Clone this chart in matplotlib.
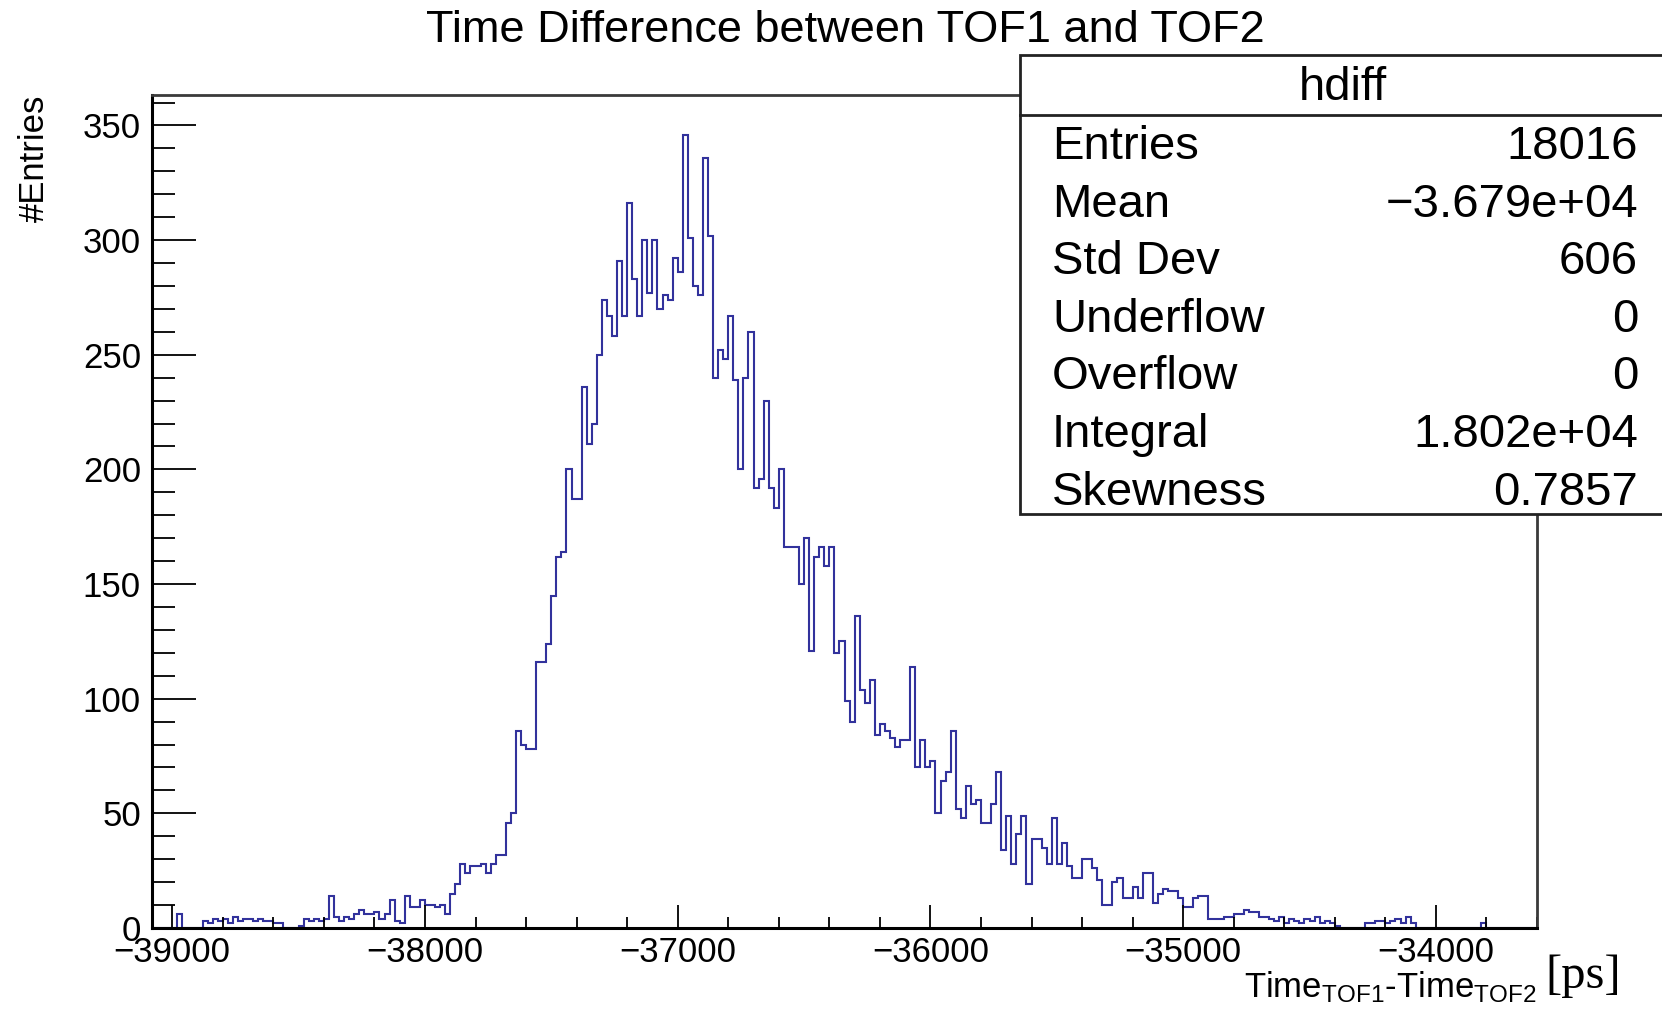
import numpy as np
import matplotlib.pyplot as plt
from matplotlib.patches import Rectangle
from matplotlib.ticker import MultipleLocator, FuncFormatter

plt.rcParams["font.family"] = ["Liberation Sans", "DejaVu Sans"]
plt.rcParams["mathtext.fontset"] = "custom"
plt.rcParams["mathtext.rm"] = "Liberation Sans"
plt.rcParams["mathtext.it"] = "Liberation Sans:italic"

# hdiff: TOF1 - TOF2 time difference, 20 ps bins
x_min, x_max, bin_width = -39080, -33600, 20
counts = [
    0, 0, 0, 0, 0, 6, 0, 0, 0, 0,
    3, 2, 4, 3, 4, 2, 5, 3, 4, 4,
    3, 4, 3, 3, 2, 2, 0, 0, 0, 1,
    4, 3, 4, 3, 4, 14, 5, 3, 5, 4,
    6, 8, 6, 6, 7, 4, 6, 12, 3, 2,
    14, 9, 9, 12, 10, 10, 9, 10, 6, 15,
    19, 28, 24, 27, 27, 28, 24, 28, 32, 32,
    46, 50, 86, 80, 78, 78, 116, 116, 124, 145,
    162, 164, 200, 187, 187, 236, 211, 220, 250, 274,
    267, 258, 291, 267, 316, 283, 267, 300, 277, 300,
    270, 276, 274, 292, 286, 346, 301, 280, 276, 336,
    302, 240, 252, 248, 267, 239, 200, 240, 260, 192,
    196, 230, 192, 183, 200, 166, 166, 166, 150, 170,
    121, 162, 166, 158, 166, 120, 125, 99, 90, 136,
    104, 98, 108, 84, 89, 86, 83, 79, 82, 82,
    114, 70, 82, 70, 73, 50, 64, 68, 86, 52,
    48, 62, 54, 56, 46, 46, 54, 68, 34, 49,
    28, 41, 49, 19, 39, 39, 35, 28, 48, 28,
    37, 27, 22, 22, 30, 30, 26, 21, 10, 10,
    20, 22, 13, 13, 18, 13, 24, 24, 11, 15,
    17, 16, 16, 13, 9, 9, 13, 14, 14, 4,
    4, 4, 5, 5, 6, 6, 8, 7, 7, 5,
    5, 4, 3, 5, 2, 4, 3, 2, 4, 3,
    5, 2, 3, 2, 1, 0, 0, 0, 0, 0,
    2, 2, 3, 3, 2, 3, 4, 2, 5, 2,
    0, 0, 0, 0, 0, 0, 0, 0, 0, 0,
    0, 0, 0, 2, 0, 0, 0, 0, 0, 0,
    0, 0, 0, 0,
]

stats_title = "hdiff"
stats_names = ["Entries", "Mean", "Std Dev", "Underflow", "Overflow",
               "Integral", "Skewness"]
stats_values = ["18016", "\u22123.679e+04", "606", "0", "0",
                "1.802e+04", "0.7857"]

W, H = 1662, 1011
fig = plt.figure(figsize=(W / 100, H / 100), dpi=100)


def fx(px):
    return px / W


def fy(py):
    return 1 - py / H


# frame in pixel units: left 152, right 1537, top 95, bottom 928
ax = fig.add_axes([fx(152), fy(928), fx(1537 - 152), (928 - 95) / H])

edges = x_min + bin_width * np.arange(len(counts) + 1)
ax.stairs(counts, edges, color="#32329c", linewidth=1.5)

ax.set_xlim(x_min, x_max)
ax.set_ylim(0, 1.05 * max(counts))

ax.xaxis.set_major_locator(MultipleLocator(1000))
ax.xaxis.set_minor_locator(MultipleLocator(200))
ax.yaxis.set_major_locator(MultipleLocator(50))
ax.yaxis.set_minor_locator(MultipleLocator(10))
ax.xaxis.set_major_formatter(
    FuncFormatter(lambda v, p: f"{v:.0f}".replace("-", "\u2212")))

ax.tick_params(axis="both", which="both", direction="in", width=1.3,
               colors="black", labelsize=25, top=False, right=False)
ax.tick_params(axis="y", which="major", length=32, pad=8)
ax.tick_params(axis="y", which="minor", length=16.5)
ax.tick_params(axis="x", which="major", length=16.5, pad=6)
ax.tick_params(axis="x", which="minor", length=8)

for side in ["left", "bottom"]:
    ax.spines[side].set_linewidth(2.2)
    ax.spines[side].set_color("black")
for side in ["top", "right"]:
    ax.spines[side].set_linewidth(2.0)
    ax.spines[side].set_color("#3a3a3a")

fig.text(fx(845), fy(31), "Time Difference between TOF1 and TOF2",
         ha="center", va="center", fontsize=32.5)
fig.text(fx(34), fy(95), "#Entries", rotation=90, ha="center", va="top",
         fontsize=25)
fig.text(fx(1537), fy(997),
         r"Time$_{\mathrm{TOF1}}$-Time$_{\mathrm{TOF2}}$",
         ha="right", va="baseline", fontsize=25)
fig.text(fx(1545), fy(988), "[ps]", ha="left", va="baseline",
         fontsize=35, family="Liberation Serif")

# stats box, running off the right edge
box = Rectangle((fx(1020), fy(514)), 0.5, (514 - 55) / H,
                transform=fig.transFigure, facecolor="white",
                edgecolor="#222222", linewidth=2.0, zorder=5)
fig.patches.append(box)
fig.add_artist(plt.Line2D([fx(1020), 1.0], [fy(115), fy(115)],
                          transform=fig.transFigure, color="#222222",
                          linewidth=2.0, zorder=6))
fig.text(fx(1343), fy(88), stats_title, ha="center", va="center",
         fontsize=34, zorder=7)
for i, (name, val) in enumerate(zip(stats_names, stats_values)):
    yb = 159 + 57.6 * i
    fig.text(fx(1052), fy(yb), name, ha="left", va="baseline",
             fontsize=34, zorder=7)
    fig.text(fx(1638), fy(yb), val, ha="right", va="baseline",
             fontsize=34, zorder=7)

fig.savefig("out.png", dpi=100)
